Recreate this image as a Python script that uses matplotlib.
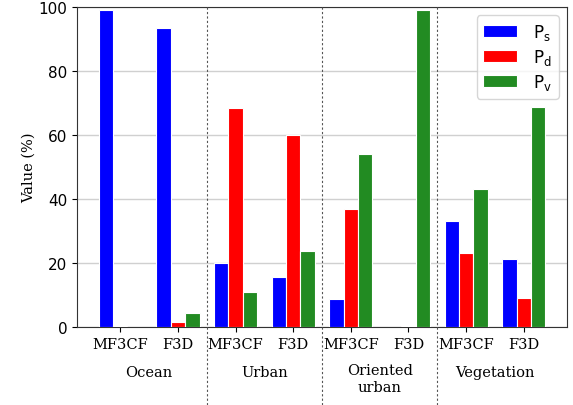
import matplotlib
matplotlib.use("Agg")
import matplotlib.pyplot as plt
import numpy as np

groups = ["Ocean", "Urban", "Oriented\nurban", "Vegetation"]
methods = ["MF3CF", "F3D"]
Ps = [99.0, 93.5, 20.0, 15.5, 8.6, 0.0, 33.2, 21.3]
Pd = [0.3, 1.5, 68.3, 60.0, 37.0, 0.3, 23.0, 9.2]
Pv = [0.0, 4.4, 11.0, 23.6, 54.0, 99.2, 43.2, 68.9]
series_labels = [r"$\mathregular{P_s}$", r"$\mathregular{P_d}$", r"$\mathregular{P_v}$"]
colors = ["blue", "red", "forestgreen"]

serif = "DejaVu Serif"
fs = 10.5

fig = plt.figure(figsize=(5.73, 4.06), dpi=100)
ax = fig.add_axes([77/573, 1-328/406, 490/573, 320/406])

x = np.arange(len(Ps))
w = 0.25
for off, vals, lab, c in zip([-w, 0, w], [Ps, Pd, Pv], series_labels, colors):
    ax.bar(x + off, vals, width=w, color=c, edgecolor="white", linewidth=0.8, label=lab, zorder=3)

ax.set_xlim(-0.75, 7.75)
ax.set_ylim(0, 100)
ax.set_yticks([0, 20, 40, 60, 80, 100])
ax.tick_params(axis="y", labelsize=11)
ax.set_xticks(x)
ax.set_xticklabels(methods * 4, fontfamily=serif, fontsize=fs)
ax.grid(axis="y", color="#d0d0d0", linewidth=1, zorder=0)
for s in ax.spines.values():
    s.set_color("#333333")
ax.set_ylabel("Value (%)", fontfamily=serif, fontsize=fs, labelpad=2)

for xv in [1.5, 3.5, 5.5]:
    ax.plot([xv, xv], [1, -0.245], transform=ax.get_xaxis_transform(), color="#555555",
            linestyle=(0, (2, 2)), linewidth=0.8, clip_on=False, zorder=4)

for i, g in enumerate(groups):
    ax.text(2 * i + 0.5, -0.141 if "\n" not in g else -0.161, g, transform=ax.get_xaxis_transform(),
            ha="center", va="center", fontfamily=serif, fontsize=fs, linespacing=1.3)

ax.legend(loc="upper right", fontsize=12, handlelength=2.0, borderpad=0.4, labelspacing=0.3,
          handletextpad=1.0, borderaxespad=0.5)

fig.savefig("out.png", dpi=100)
